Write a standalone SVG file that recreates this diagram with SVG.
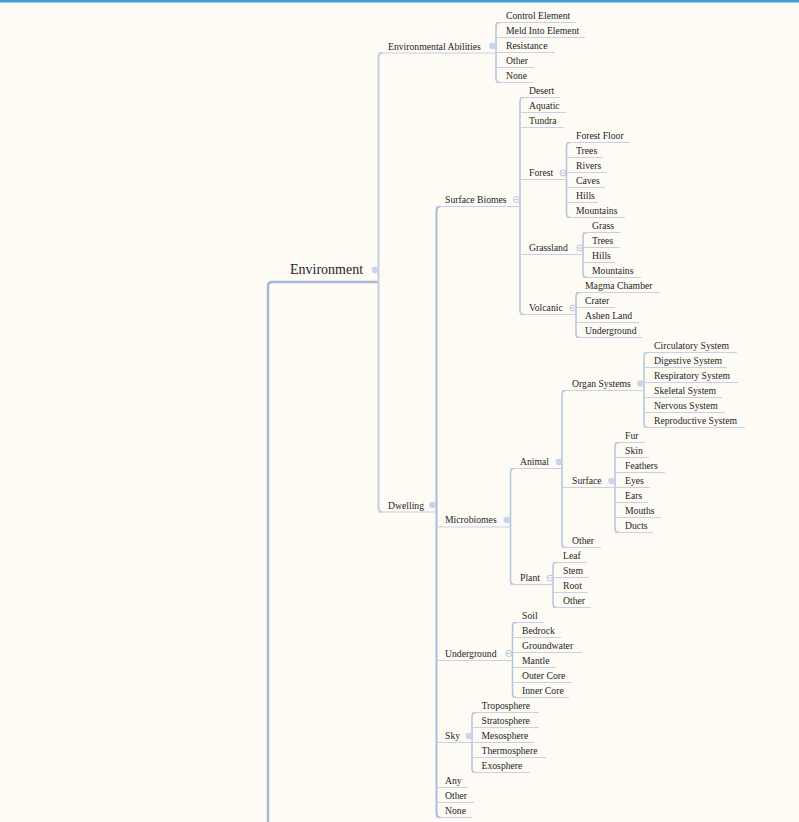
<svg xmlns="http://www.w3.org/2000/svg" width="799" height="822" viewBox="0 0 799 822">
<style>
.bg{fill:#fdfbf4}
.t{font-family:"Liberation Serif","Times New Roman",serif;font-size:9.7px;fill:#1f1f1f}
.tr{font-family:"Liberation Serif","Times New Roman",serif;font-size:14px;fill:#1f1f1f}
.ul{fill:none;stroke:#c6d1e3;stroke-width:1.2}
.v{fill:none;stroke:#b4c3dc;stroke-width:1.5}
.v1{fill:none;stroke:#c4cfe2;stroke-width:2}
.v2{fill:none;stroke:#a9bbd7;stroke-width:2}
.trunk{fill:none;stroke:#a4b7d4;stroke-width:2.5}
.dot{fill:#c9d3ea}
.col{fill:#fdfbf4;stroke:#b7c4de;stroke-width:1}
.minus{stroke:#b7c4de;stroke-width:1}
</style>
<rect class="bg" x="0" y="0" width="799" height="822"/>
<rect x="0" y="0" width="799" height="2.5" fill="#3ba1d9"/>
<g id="connectors">
<path class="trunk" d="M268,830 L268,286 Q268,282 272,282 L378.5,282"/>
<path class="v1" d="M382.5,53 Q378.5,53 378.5,57 L378.5,508 Q378.5,512 382.5,512"/>
<path class="v2" d="M440.5,206.5 Q436.5,206.5 436.5,210.5 L436.5,813.5 Q436.5,817.5 440.5,817.5"/>
<path class="v" d="M500,22.5 Q496,22.5 496,26.5 L496,78.5 Q496,82.5 500,82.5"/>
<path class="v" d="M524,97.5 Q520,97.5 520,101.5 L520,310.5 Q520,314.5 524,314.5"/>
<path class="v" d="M570.5,142.5 Q566.5,142.5 566.5,146.5 L566.5,213.5 Q566.5,217.5 570.5,217.5"/>
<path class="v" d="M587,232.5 Q583,232.5 583,236.5 L583,273.5 Q583,277.5 587,277.5"/>
<path class="v" d="M580,292.5 Q576,292.5 576,296.5 L576,333.5 Q576,337.5 580,337.5"/>
<path class="v" d="M514.5,468.5 Q510.5,468.5 510.5,472.5 L510.5,580.5 Q510.5,584.5 514.5,584.5"/>
<path class="v" d="M566,390.5 Q562,390.5 562,394.5 L562,543.5 Q562,547.5 566,547.5"/>
<path class="v" d="M648,352.5 Q644,352.5 644,356.5 L644,423.5 Q644,427.5 648,427.5"/>
<path class="v" d="M619,442.5 Q615,442.5 615,446.5 L615,528.5 Q615,532.5 619,532.5"/>
<path class="v" d="M557,562.5 Q553,562.5 553,566.5 L553,603.5 Q553,607.5 557,607.5"/>
<path class="v" d="M516.5,622.5 Q512.5,622.5 512.5,626.5 L512.5,693.5 Q512.5,697.5 516.5,697.5"/>
<path class="v" d="M476,712.5 Q472,712.5 472,716.5 L472,768.5 Q472,772.5 476,772.5"/>
<path class="ul" d="M378.5,53H496 M378.5,512H436.5
M496,22.5H576 M496,37.5H585 M496,52.5H555 M496,67.5H534 M496,82.5H533
M436.5,206.5H520 M436.5,527H510.5 M436.5,660.5H512.5 M436.5,742.5H472
M436.5,787.5H468 M436.5,802.5H474 M436.5,817.5H472.5
M520,97.5H560 M520,112.5H566 M520,127.5H564 M520,179.5H566.5 M520,254.5H583 M520,314.5H576
M566.5,142.5H630 M566.5,157.5H603 M566.5,172.5H607 M566.5,187.5H605 M566.5,202.5H598 M566.5,217.5H625
M583,232.5H620.5 M583,247.5H619.5 M583,262.5H615 M583,277.5H641
M576,292.5H660 M576,307.5H615 M576,322.5H639 M576,337.5H642
M510.5,468.5H562 M510.5,584.5H553
M562,390.5H644 M562,487.5H615 M562,547.5H601
M644,352.5H737 M644,367.5H727 M644,382.5H738 M644,397.5H722 M644,412.5H725 M644,427.5H745
M615,442.5H645 M615,457.5H649 M615,472.5H665 M615,487.5H650 M615,502.5H648 M615,517.5H661 M615,532.5H653
M553,562.5H587 M553,577.5H589 M553,592.5H588 M553,607.5H591
M512.5,622.5H544 M512.5,637.5H561 M512.5,652.5H582 M512.5,667.5H556 M512.5,682.5H572 M512.5,697.5H569
M472,712.5H539 M472,727.5H539 M472,742.5H534 M472,757.5H546 M472,772.5H530"/>
</g>
<g id="n-environment"><text class="tr" x="290" y="273.5">Environment</text><circle class="dot" cx="375" cy="270" r="3.3"/></g>
<g id="n-env-abilities"><text class="t" x="388" y="49.5">Environmental Abilities</text><circle class="dot" cx="492.5" cy="46" r="3.3"/></g>
<g id="n-control-element"><text class="t" x="506" y="19">Control Element</text></g>
<g id="n-meld"><text class="t" x="506" y="34">Meld Into Element</text></g>
<g id="n-resistance"><text class="t" x="506" y="49">Resistance</text></g>
<g id="n-ea-other"><text class="t" x="506" y="64">Other</text></g>
<g id="n-ea-none"><text class="t" x="506" y="79">None</text></g>
<g id="n-dwelling"><text class="t" x="388" y="508.5">Dwelling</text><circle class="dot" cx="432.5" cy="505" r="3.3"/></g>
<g id="n-surface-biomes"><text class="t" x="445" y="202.5">Surface Biomes</text><circle class="col" cx="516.5" cy="199.5" r="3"/><path class="minus" d="M514.5,199.5H518.5"/></g>
<g id="n-desert"><text class="t" x="529" y="94">Desert</text></g>
<g id="n-aquatic"><text class="t" x="529" y="109">Aquatic</text></g>
<g id="n-tundra"><text class="t" x="529" y="124">Tundra</text></g>
<g id="n-forest"><text class="t" x="529" y="176">Forest</text><circle class="col" cx="563" cy="173" r="3"/><path class="minus" d="M561,173H565"/></g>
<g id="n-forest-floor"><text class="t" x="576" y="139">Forest Floor</text></g>
<g id="n-f-trees"><text class="t" x="576" y="154">Trees</text></g>
<g id="n-rivers"><text class="t" x="576" y="169">Rivers</text></g>
<g id="n-caves"><text class="t" x="576" y="184">Caves</text></g>
<g id="n-f-hills"><text class="t" x="576" y="199">Hills</text></g>
<g id="n-f-mountains"><text class="t" x="576" y="214">Mountains</text></g>
<g id="n-grassland"><text class="t" x="529" y="251">Grassland</text><circle class="col" cx="580" cy="248" r="3"/><path class="minus" d="M578,248H582"/></g>
<g id="n-grass"><text class="t" x="592" y="229">Grass</text></g>
<g id="n-g-trees"><text class="t" x="592" y="244">Trees</text></g>
<g id="n-g-hills"><text class="t" x="592" y="259">Hills</text></g>
<g id="n-g-mountains"><text class="t" x="592" y="274">Mountains</text></g>
<g id="n-volcanic"><text class="t" x="529" y="311">Volcanic</text><circle class="col" cx="573" cy="308" r="3"/><path class="minus" d="M571,308H575"/></g>
<g id="n-magma"><text class="t" x="585" y="289">Magma Chamber</text></g>
<g id="n-crater"><text class="t" x="585" y="304">Crater</text></g>
<g id="n-ashen"><text class="t" x="585" y="319">Ashen Land</text></g>
<g id="n-v-underground"><text class="t" x="585" y="334">Underground</text></g>
<g id="n-microbiomes"><text class="t" x="445" y="523">Microbiomes</text><circle class="dot" cx="507" cy="520" r="3.3"/></g>
<g id="n-animal"><text class="t" x="520" y="465">Animal</text><circle class="dot" cx="559" cy="462" r="3.3"/></g>
<g id="n-organ"><text class="t" x="572" y="387">Organ Systems</text><circle class="dot" cx="640.5" cy="383.5" r="3.3"/></g>
<g id="n-circulatory"><text class="t" x="654" y="349">Circulatory System</text></g>
<g id="n-digestive"><text class="t" x="654" y="364">Digestive System</text></g>
<g id="n-respiratory"><text class="t" x="654" y="379">Respiratory System</text></g>
<g id="n-skeletal"><text class="t" x="654" y="394">Skeletal System</text></g>
<g id="n-nervous"><text class="t" x="654" y="409">Nervous System</text></g>
<g id="n-reproductive"><text class="t" x="654" y="424">Reproductive System</text></g>
<g id="n-surface"><text class="t" x="572" y="484">Surface</text><circle class="dot" cx="611.5" cy="481" r="3.3"/></g>
<g id="n-fur"><text class="t" x="625" y="439">Fur</text></g>
<g id="n-skin"><text class="t" x="625" y="454">Skin</text></g>
<g id="n-feathers"><text class="t" x="625" y="469">Feathers</text></g>
<g id="n-eyes"><text class="t" x="625" y="484">Eyes</text></g>
<g id="n-ears"><text class="t" x="625" y="499">Ears</text></g>
<g id="n-mouths"><text class="t" x="625" y="514">Mouths</text></g>
<g id="n-ducts"><text class="t" x="625" y="529">Ducts</text></g>
<g id="n-a-other"><text class="t" x="572" y="544">Other</text></g>
<g id="n-plant"><text class="t" x="520" y="581">Plant</text><circle class="col" cx="550" cy="578" r="3"/><path class="minus" d="M548,578H552"/></g>
<g id="n-leaf"><text class="t" x="563" y="559">Leaf</text></g>
<g id="n-stem"><text class="t" x="563" y="574">Stem</text></g>
<g id="n-root"><text class="t" x="563" y="589">Root</text></g>
<g id="n-p-other"><text class="t" x="563" y="604">Other</text></g>
<g id="n-underground"><text class="t" x="445" y="656.5">Underground</text><circle class="col" cx="509" cy="653.5" r="3"/><path class="minus" d="M507,653.5H511"/></g>
<g id="n-soil"><text class="t" x="522" y="619">Soil</text></g>
<g id="n-bedrock"><text class="t" x="522" y="634">Bedrock</text></g>
<g id="n-groundwater"><text class="t" x="522" y="649">Groundwater</text></g>
<g id="n-mantle"><text class="t" x="522" y="664">Mantle</text></g>
<g id="n-outer-core"><text class="t" x="522" y="679">Outer Core</text></g>
<g id="n-inner-core"><text class="t" x="522" y="694">Inner Core</text></g>
<g id="n-sky"><text class="t" x="445" y="739">Sky</text><circle class="dot" cx="469" cy="736" r="3.3"/></g>
<g id="n-troposphere"><text class="t" x="481.5" y="709">Troposphere</text></g>
<g id="n-stratosphere"><text class="t" x="481.5" y="724">Stratosphere</text></g>
<g id="n-mesosphere"><text class="t" x="481.5" y="739">Mesosphere</text></g>
<g id="n-thermosphere"><text class="t" x="481.5" y="754">Thermosphere</text></g>
<g id="n-exosphere"><text class="t" x="481.5" y="769">Exosphere</text></g>
<g id="n-any"><text class="t" x="445" y="784">Any</text></g>
<g id="n-d-other"><text class="t" x="445" y="799">Other</text></g>
<g id="n-d-none"><text class="t" x="445" y="814">None</text></g>
</svg>
